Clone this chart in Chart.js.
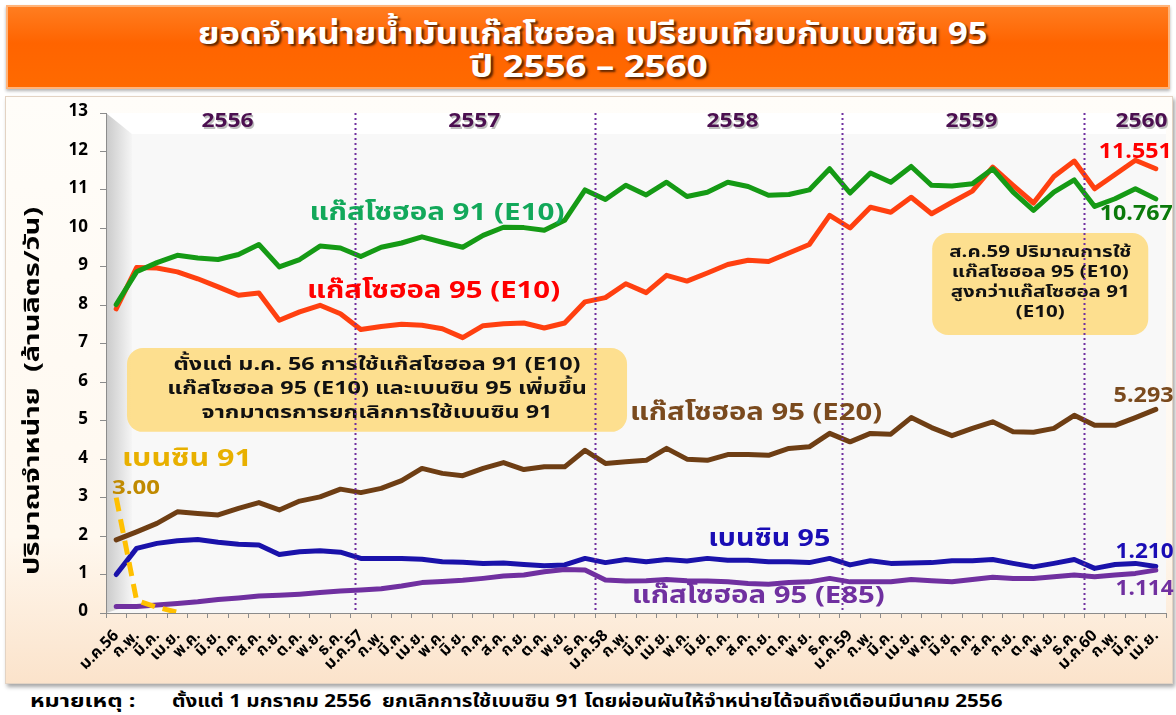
<!DOCTYPE html>
<html>
<head>
<meta charset="utf-8">
<script src="https://cdn.jsdelivr.net/npm/chart.js@4.4.0/dist/chart.umd.min.js"></script>
<style>
body{margin:0;width:1176px;height:715px;background:#fff;position:relative;overflow:hidden;font-family:Tahoma,'Noto Sans Thai','Noto Sans',sans-serif}
#head{position:absolute;left:6px;top:5px;width:1160px;height:80px;background:linear-gradient(#ff7d20,#ff6400 45%,#ff6a00);border:2px solid #ffb47a;box-shadow:0 2px 3px rgba(0,0,0,.3)}
.fit{position:absolute;white-space:nowrap;transform-origin:0 0;font-weight:bold}
.ttl{color:#fff;font-size:30px;text-shadow:2px 2px 2px #5a2400}
#box{position:absolute;left:5px;top:96px;width:1166px;height:586px;background:linear-gradient(#fffdf9,#fff8ef 75%,#fbe3cb);border:1px solid #e3d3c3;box-shadow:2px 3px 4px rgba(0,0,0,.35)}
.note{font-size:17px;color:#000}
canvas{position:absolute;left:0;top:0}
</style>
</head>
<body>
<div id="head"></div>
<div class="fit ttl" data-x="198" data-w="790" style="top:12px">ยอดจำหน่ายน้ำมันแก๊สโซฮอล เปรียบเทียบกับเบนซิน 95</div>
<div class="fit ttl" data-x="470" data-w="238" style="top:45px">ปี 2556 – 2560</div>
<div id="box"></div>
<div class="fit note" data-x="30" data-w="105" style="top:689px">หมายเหตุ :</div>
<div class="fit note" data-x="172" data-w="831" style="top:689px">ตั้งแต่ 1 มกราคม 2556&nbsp; ยกเลิกการใช้เบนซิน 91 โดยผ่อนผันให้จำหน่ายได้จนถึงเดือนมีนาคม 2556</div>
<canvas id="c" width="1176" height="715"></canvas>
<script>
var months = [
  'ม.ค.56','ก.พ.','มี.ค.','เม.ย.','พ.ค.','มิ.ย.','ก.ค.','ส.ค.','ก.ย.','ต.ค.','พ.ย.','ธ.ค.',
  'ม.ค.57','ก.พ.','มี.ค.','เม.ย.','พ.ค.','มิ.ย.','ก.ค.','ส.ค.','ก.ย.','ต.ค.','พ.ย.','ธ.ค.',
  'ม.ค.58','ก.พ.','มี.ค.','เม.ย.','พ.ค.','มิ.ย.','ก.ค.','ส.ค.','ก.ย.','ต.ค.','พ.ย.','ธ.ค.',
  'ม.ค.59','ก.พ.','มี.ค.','เม.ย.','พ.ค.','มิ.ย.','ก.ค.','ส.ค.','ก.ย.','ต.ค.','พ.ย.','ธ.ค.',
  'ม.ค.60','ก.พ.','มี.ค.','เม.ย.'
];

// ล้านลิตร/วัน
var gasohol91E10 = [8.02, 8.87, 9.11, 9.30, 9.23, 9.19, 9.32, 9.58, 9.00, 9.19, 9.54, 9.49,
  9.27, 9.51, 9.62, 9.78, 9.64, 9.51, 9.82, 10.03, 10.02, 9.95, 10.21, 11.00,
  10.75, 11.12, 10.87, 11.20, 10.83, 10.94, 11.20, 11.09, 10.86, 10.88, 11.00, 11.55,
  10.92, 11.44, 11.20, 11.61, 11.12, 11.10, 11.16, 11.55, 10.94, 10.47, 10.94, 11.26,
  10.57, 10.77, 11.03, 10.767];
var gasohol95E10 = [7.91, 8.98, 8.97, 8.87, 8.69, 8.48, 8.26, 8.32, 7.61, 7.83, 8.00, 7.78,
  7.37, 7.45, 7.51, 7.48, 7.39, 7.16, 7.47, 7.52, 7.54, 7.41, 7.54, 8.09,
  8.20, 8.56, 8.33, 8.78, 8.63, 8.84, 9.06, 9.17, 9.14, 9.36, 9.58, 10.34,
  10.01, 10.55, 10.42, 10.81, 10.38, 10.68, 10.97, 11.59, 11.12, 10.66, 11.35, 11.75,
  11.03, 11.40, 11.77, 11.551];
var gasohol95E20 = [1.90, 2.11, 2.33, 2.63, 2.59, 2.55, 2.72, 2.87, 2.68, 2.91, 3.02, 3.22,
  3.13, 3.24, 3.44, 3.76, 3.63, 3.57, 3.76, 3.91, 3.73, 3.80, 3.80, 4.23,
  3.89, 3.93, 3.97, 4.28, 4.00, 3.97, 4.12, 4.12, 4.10, 4.28, 4.32, 4.67,
  4.45, 4.67, 4.65, 5.08, 4.82, 4.61, 4.80, 4.97, 4.71, 4.70, 4.80, 5.14,
  4.88, 4.88, 5.08, 5.293];
var benzin95 = [1.00, 1.68, 1.81, 1.88, 1.91, 1.84, 1.79, 1.77, 1.52, 1.59, 1.62, 1.58,
  1.42, 1.42, 1.42, 1.40, 1.33, 1.32, 1.29, 1.30, 1.26, 1.23, 1.25, 1.42,
  1.31, 1.39, 1.33, 1.39, 1.35, 1.42, 1.37, 1.37, 1.33, 1.33, 1.31, 1.42,
  1.25, 1.36, 1.29, 1.30, 1.31, 1.36, 1.36, 1.39, 1.29, 1.20, 1.29, 1.39,
  1.16, 1.26, 1.29, 1.210];
var gasohol95E85 = [0.17, 0.17, 0.21, 0.25, 0.29, 0.35, 0.39, 0.44, 0.46, 0.49, 0.53, 0.57,
  0.60, 0.63, 0.70, 0.79, 0.82, 0.85, 0.90, 0.96, 0.99, 1.07, 1.13, 1.12,
  0.86, 0.83, 0.84, 0.87, 0.84, 0.83, 0.81, 0.77, 0.75, 0.79, 0.81, 0.90,
  0.81, 0.81, 0.81, 0.87, 0.84, 0.81, 0.87, 0.93, 0.90, 0.90, 0.94, 0.99,
  0.94, 0.99, 1.03, 1.114];
var benzin91 = [3.00, 0.33, 0.15, 0.02];

var yearNames = ['2556', '2557', '2558', '2559', '2560'];
var yearAt = [5.46, 17.56, 30.24, 41.96, 50.3];   // category position of each year label
var yearBreaks = [11.7, 23.5, 35.6, 47.5];

var FONT = "Tahoma, 'Noto Sans Thai', 'Noto Sans', sans-serif";

// text on the plot, placed by category index / value, w = width it should take
var seriesLabels = [
  {t: 'แก๊สโซฮอล 91 (E10)', i: 15.74, v: 10.35, size: 24, w: 255, c: '#12a85a'},
  {t: 'แก๊สโซฮอล 95 (E10)', i: 15.57, v: 8.32, size: 24, w: 253, c: '#ff0000'},
  {t: 'แก๊สโซฮอล 95 (E20)', i: 31.39, v: 5.15, size: 24, w: 252, c: '#7a4a1e'},
  {t: 'เบนซิน 91', i: 3.47, v: 3.95, size: 24, w: 130, c: '#e8b000'},
  {t: '3.00', i: 0.97, v: 3.2, size: 20, w: 48, c: '#c08a00'},
  {t: 'เบนซิน 95', i: 32.04, v: 1.87, size: 24, w: 122, c: '#1a0db5'},
  {t: 'แก๊สโซฮอล 95 (E85)', i: 31.5, v: 0.39, size: 24, w: 253, c: '#7030a0'},
  {t: '11.551', i: 49.99, v: 11.95, size: 21, w: 73, c: '#ff0000'},
  {t: '10.767', i: 50.04, v: 10.33, size: 21, w: 73, c: '#0b7a0b'},
  {t: '5.293', i: 50.4, v: 5.6, size: 21, w: 60, c: '#7a4a1e'},
  {t: '1.210', i: 50.45, v: 1.54, size: 21, w: 58, c: '#1a0db5'},
  {t: '1.114', i: 50.45, v: 0.57, size: 21, w: 58, c: '#7030a0'}
];
var notes = [
  {lines: ['ตั้งแต่ ม.ค. 56 การใช้แก๊สโซฮอล 91 (E10)', 'แก๊สโซฮอล 95 (E10) และเบนซิน 95 เพิ่มขึ้น', 'จากมาตรการยกเลิกการใช้เบนซิน 91'],
   i0: 0.53, i1: 25.06, v0: 6.89, v1: 4.71, size: 18, w: 407, gap: 24},
  {lines: ['ส.ค.59 ปริมาณการใช้', 'แก๊สโซฮอล 95 (E10)', 'สูงกว่าแก๊สโซฮอล 91', '(E10)'],
   i0: 40.03, i1: 50.63, v0: 9.88, v1: 7.23, size: 16, w: 182, gap: 20}
];

// stretch html text to the width it has in the picture
document.querySelectorAll('.fit').forEach(function(el) {
  el.style.left = el.dataset.x + 'px';
  el.style.transform = 'scaleX(' + (el.dataset.w / el.offsetWidth) + ')';
});

function fitText(ctx, text, x, y, sx) {
  ctx.save();
  ctx.translate(x, y);
  ctx.scale(sx, 1);
  ctx.fillText(text, 0, 0);
  ctx.restore();
}

function roundRect(ctx, x, y, w, h, r) {
  ctx.beginPath();
  ctx.moveTo(x + r, y);
  ctx.arcTo(x + w, y, x + w, y + h, r);
  ctx.arcTo(x + w, y + h, x, y + h, r);
  ctx.arcTo(x, y + h, x, y, r);
  ctx.arcTo(x, y, x + w, y, r);
  ctx.closePath();
}

var decor = {
  id: 'decor',
  beforeDraw: function(chart) {
    var ctx = chart.ctx, a = chart.chartArea;
    ctx.save();
    ctx.fillStyle = '#f8f8f8';
    ctx.fillRect(a.left, a.top, a.right - a.left, a.bottom - a.top);
    ctx.fillStyle = '#ffffff';
    ctx.fillRect(a.left, a.top, a.right - a.left, 21);
    var g = ctx.createLinearGradient(a.left, 0, a.left + 26, 0);
    g.addColorStop(0, '#cacaca');
    g.addColorStop(1, '#f5f5f5');
    ctx.beginPath();
    ctx.moveTo(a.left, a.top);
    ctx.lineTo(a.left + 26, a.top + 21);
    ctx.lineTo(a.left + 26, a.bottom - 8);
    ctx.lineTo(a.left, a.bottom);
    ctx.closePath();
    ctx.fillStyle = g;
    ctx.fill();
    ctx.restore();
  },
  afterDraw: function(chart) {
    var ctx = chart.ctx, a = chart.chartArea;
    var xs = chart.scales.x, ys = chart.scales.y;
    ctx.save();

    // month labels, rotated 45 degrees
    ctx.font = 'bold 16px ' + FONT;
    ctx.fillStyle = '#000';
    ctx.textAlign = 'right';
    ctx.textBaseline = 'middle';
    var msx = 48 / ctx.measureText(months[0]).width;
    chart.data.labels.forEach(function(m, i) {
      ctx.save();
      ctx.translate(xs.getPixelForValue(i) + 1, a.bottom + 21);
      ctx.rotate(-Math.PI / 4);
      ctx.scale(msx, 1);
      ctx.fillText(m, 0, 0);
      ctx.restore();
    });

    ctx.textAlign = 'center';
    notes.forEach(function(n) {
      var x0 = xs.getPixelForValue(n.i0), x1 = xs.getPixelForValue(n.i1);
      var y0 = ys.getPixelForValue(n.v0), y1 = ys.getPixelForValue(n.v1);
      roundRect(ctx, x0, y0, x1 - x0, y1 - y0, 16);
      ctx.fillStyle = 'rgba(253,221,135,0.93)';
      ctx.fill();
      ctx.fillStyle = '#111';
      ctx.font = 'bold ' + n.size + 'px ' + FONT;
      var sx = n.w / ctx.measureText(n.lines[0]).width;
      var cy = (y0 + y1) / 2 - (n.lines.length - 1) * n.gap / 2;
      n.lines.forEach(function(l, k) {
        fitText(ctx, l, (x0 + x1) / 2, cy + k * n.gap, sx);
      });
    });

    ctx.strokeStyle = '#7030a0';
    ctx.lineWidth = 2;
    ctx.setLineDash([2, 3]);
    yearBreaks.forEach(function(b) {
      var x = Math.round(xs.getPixelForValue(b)) + 0.5;
      ctx.beginPath();
      ctx.moveTo(x, a.top);
      ctx.lineTo(x, a.bottom);
      ctx.stroke();
    });
    ctx.setLineDash([]);

    ctx.font = 'bold 20px ' + FONT;
    var ysx = 52 / ctx.measureText('2556').width;
    yearNames.forEach(function(y, k) {
      var x = xs.getPixelForValue(yearAt[k]);
      ctx.fillStyle = 'rgba(0,0,0,0.25)';
      fitText(ctx, y, x + 1.5, a.top + 11.5, ysx);
      ctx.fillStyle = '#4b0f50';
      fitText(ctx, y, x, a.top + 10, ysx);
    });

    seriesLabels.forEach(function(s) {
      ctx.font = 'bold ' + s.size + 'px ' + FONT;
      ctx.fillStyle = s.c;
      fitText(ctx, s.t, xs.getPixelForValue(s.i), ys.getPixelForValue(s.v), s.w / ctx.measureText(s.t).width);
    });

    var title = 'ปริมาณจำหน่าย  (ล้านลิตร/วัน)';
    ctx.translate(35, 391);
    ctx.rotate(-Math.PI / 2);
    ctx.font = 'bold 21px ' + FONT;
    ctx.fillStyle = '#000';
    fitText(ctx, title, 0, 0, 368 / ctx.measureText(title).width);
    ctx.restore();
  }
};

function line(label, data, color, dash) {
  return {
    label: label, data: data, borderColor: color, backgroundColor: color,
    borderWidth: 5, pointRadius: 0, tension: 0, fill: false,
    borderDash: dash || [], borderCapStyle: dash ? 'butt' : 'round', borderJoinStyle: 'round'
  };
}

new Chart(document.getElementById('c'), {
  type: 'line',
  data: {
    labels: months,
    datasets: [
      line('เบนซิน 91', benzin91, '#ffc000', [14, 8]),
      line('แก๊สโซฮอล 95 (E85)', gasohol95E85, '#7030a0'),
      line('เบนซิน 95', benzin95, '#1a12aa'),
      line('แก๊สโซฮอล 95 (E20)', gasohol95E20, '#6e3e14'),
      line('แก๊สโซฮอล 91 (E10)', gasohol91E10, '#159a15'),
      line('แก๊สโซฮอล 95 (E10)', gasohol95E10, '#ff4010')
    ]
  },
  options: {
    responsive: false,
    animation: false,
    layout: {padding: {left: 26, right: 10, top: 113, bottom: 2}},
    plugins: {legend: {display: false}, tooltip: {enabled: false}},
    scales: {
      x: {
        offset: true,
        grid: {offset: true, drawOnChartArea: false, tickLength: 5, color: '#8c8c8c'},
        border: {color: '#8c8c8c'},
        ticks: {display: false},
        afterFit: function(s) { s.height = 100; }
      },
      y: {
        min: 0, max: 13,
        grid: {drawOnChartArea: false, tickLength: 6, color: '#8c8c8c'},
        border: {color: '#8c8c8c'},
        ticks: {stepSize: 1, color: '#000', padding: 12,
          font: {family: FONT, size: 17, weight: 'bold'}},
        afterFit: function(s) { s.width = 80; }
      }
    }
  },
  plugins: [decor]
});
</script>
</body>
</html>
